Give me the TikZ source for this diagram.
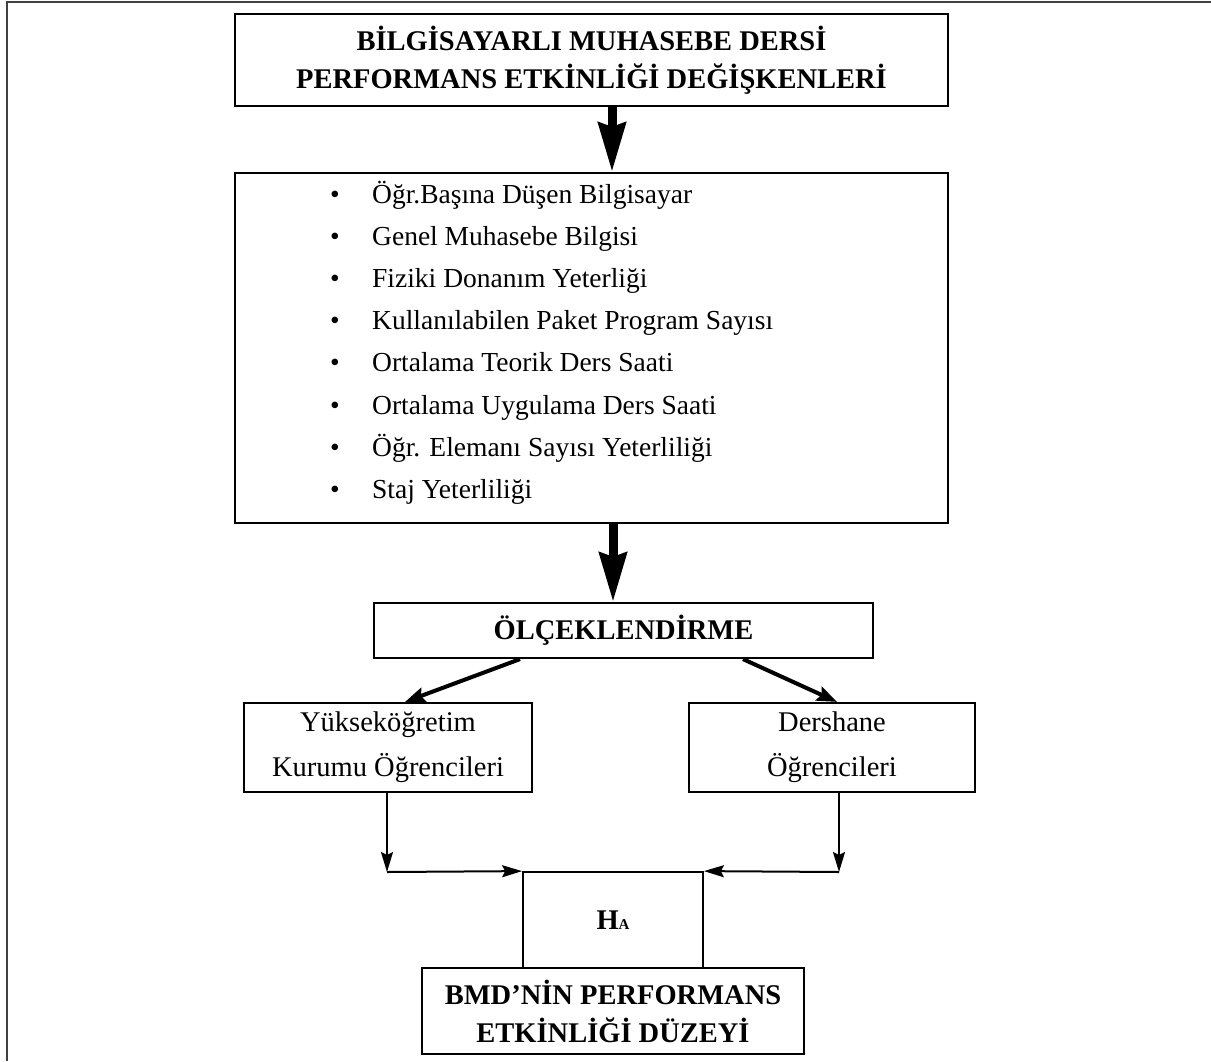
\documentclass[tikz,border=0pt]{standalone}
\usepackage{fontspec}
\setmainfont{Liberation Serif}
\usetikzlibrary{arrows.meta}
\begin{document}
\begin{tikzpicture}[x=1pt,y=-1pt,
  box/.style={draw, line width=2.2pt, inner sep=0pt, align=center},
  boldtxt/.style={font=\fontsize{28.5}{38}\selectfont\bfseries},
  regtxt/.style={font=\fontsize{28.5}{45}\selectfont},
  itemtxt/.style={font=\fontsize{27.5}{30}\selectfont, anchor=base west, inner sep=0pt},
  bigarrow/.style={line width=9pt, -{Stealth[length=49pt,width=27pt,inset=4pt]}},
  midarrow/.style={line width=4pt, -{Stealth[length=20pt,width=15pt,inset=3pt]}},
  thinarrow/.style={line width=2pt, -{Stealth[length=20pt,width=12pt,inset=3pt]}},
  frameline/.style={line width=2pt, draw=black!75}]
\useasboundingbox (0,0) rectangle (1211,1061);
\draw[frameline] (7,1061) -- (7,2) -- (1211,2);

\node[box, boldtxt, minimum width=713pt, minimum height=92pt] (top) at (591.5,60)
  {BİLGİSAYARLI MUHASEBE DERSİ\\PERFORMANS ETKİNLİĞİ DEĞİŞKENLERİ};
\node[box, minimum width=713pt, minimum height=350pt] (list) at (591.5,348) {};
\node[itemtxt] (i1) at (330,203) {\makebox[42pt][l]{•}Öğr.Başına Düşen Bilgisayar};
\node[itemtxt] (i2) at (330,245.2) {\makebox[42pt][l]{•}Genel Muhasebe Bilgisi};
\node[itemtxt] (i3) at (330,287.4) {\makebox[42pt][l]{•}Fiziki Donanım Yeterliği};
\node[itemtxt] (i4) at (330,329.6) {\makebox[42pt][l]{•}Kullanılabilen Paket Program Sayısı};
\node[itemtxt] (i5) at (330,371.8) {\makebox[42pt][l]{•}Ortalama Teorik Ders Saati};
\node[itemtxt] (i6) at (330,414) {\makebox[42pt][l]{•}Ortalama Uygulama Ders Saati};
\node[itemtxt] (i7) at (330,456.2) {\makebox[42pt][l]{•}Öğr. Elemanı Sayısı Yeterliliği};
\node[itemtxt] (i8) at (330,498.4) {\makebox[42pt][l]{•}Staj Yeterliliği};

\node[box, boldtxt, minimum width=499pt, minimum height=55pt] (olc) at (623.5,630.5) {ÖLÇEKLENDİRME};
\node[box, regtxt, minimum width=288pt, minimum height=89pt] (lb) at (388,747.5) {Yükseköğretim\\Kurumu Öğrencileri};
\node[box, regtxt, minimum width=286pt, minimum height=89pt] (rb) at (832,747.5) {Dershane\\Öğrencileri};
\node[box, line width=1.8pt, minimum width=180pt, minimum height=96pt] (ha) at (613,920)
  {\fontsize{28.5}{30}\selectfont\bfseries H\fontsize{15}{15}\selectfont A};
\node[box, boldtxt, minimum width=382pt, minimum height=86pt] (bot) at (613,1011)
  {BMD’NİN PERFORMANS\\ETKİNLİĞİ DÜZEYİ};

\draw[bigarrow] ([xshift=20.5pt]top.south) -- ([xshift=20.5pt]list.north);
\draw[bigarrow] ([xshift=21.5pt]list.south) -- ([xshift=-10.5pt]olc.north);
\draw[midarrow] ([xshift=-103.5pt]olc.south) -- ([xshift=17pt]lb.north);
\draw[midarrow] ([xshift=119.5pt]olc.south) -- ([xshift=5pt]rb.north);
\coordinate (jl) at (387,872);
\coordinate (jr) at (839,872);
\draw[thinarrow] (lb.south -| jl) -- (jl);
\draw[thinarrow] (jl) -- (ha.north west);
\draw[thinarrow] (rb.south -| jr) -- (jr);
\draw[thinarrow] (jr) -- (ha.north east);
\end{tikzpicture}
\end{document}
